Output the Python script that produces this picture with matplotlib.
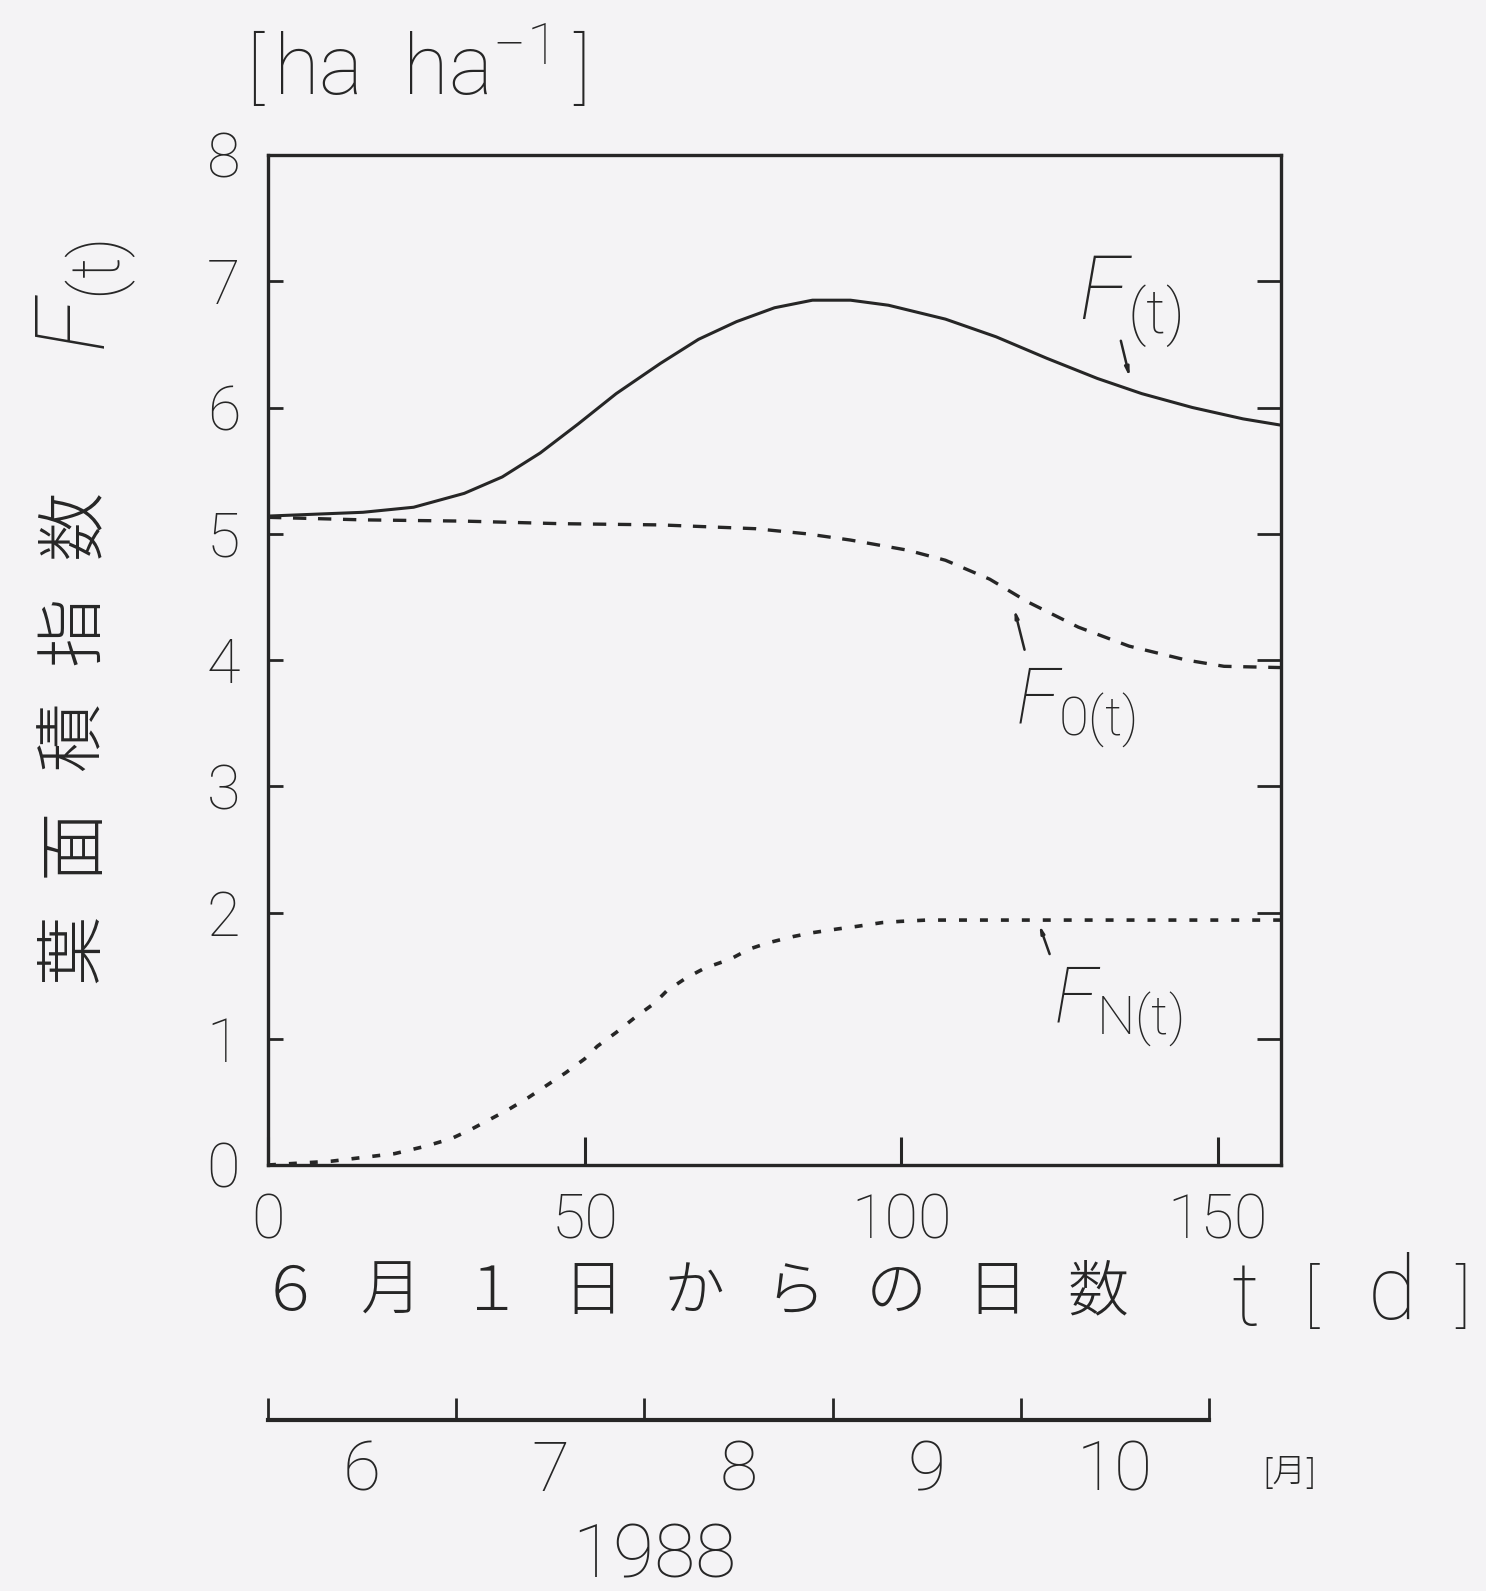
import numpy as np
import matplotlib.pyplot as plt

# values
t_F = [0, 15, 23, 31, 37, 43, 49, 55, 62, 68, 74, 80, 86, 92, 98, 107, 115, 123, 131, 138, 146, 154, 160]
F = [5.14, 5.17, 5.21, 5.32, 5.45, 5.64, 5.87, 6.11, 6.35, 6.54, 6.68, 6.79, 6.85, 6.85, 6.81,
     6.70, 6.56, 6.39, 6.23, 6.11, 6.00, 5.91, 5.86]

t_F0 = [0, 15, 31, 46, 62, 77, 85, 92, 101, 107, 114, 120, 128, 136, 145, 151, 160]
F0 = [5.13, 5.11, 5.10, 5.08, 5.07, 5.04, 5.0, 4.95, 4.87, 4.79, 4.64, 4.46, 4.26, 4.11, 4.0, 3.95, 3.94]

t_FN = [0, 10, 20, 25, 29, 32, 35, 38, 41, 44, 47, 50, 52, 55, 58, 61, 63, 66, 69, 73, 76, 79,
        83, 86, 90, 93, 97, 100, 104, 120, 140, 160]
FN = [0.0, 0.03, 0.09, 0.15, 0.21, 0.28, 0.36, 0.44, 0.53, 0.63, 0.73, 0.84, 0.94, 1.05, 1.17,
      1.28, 1.38, 1.48, 1.56, 1.63, 1.71, 1.76, 1.81, 1.84, 1.87, 1.89, 1.92, 1.93, 1.94, 1.94,
      1.94, 1.94]

x_ticks = [0, 50, 100, 150]
y_ticks = [0, 1, 2, 3, 4, 5, 6, 7, 8]
months = ['6', '7', '8', '9', '10']
xlabel_chars = ['６', '月', '１', '日', 'か', 'ら', 'の', '日', '数']
ylabel_chars = ['葉', '面', '積', '指', '数']

bg = '#f4f3f5'
ink = '#262626'
latin = ['Roboto', 'DejaVu Sans']
cjk = ['Noto Sans CJK JP', 'DejaVu Sans']

plt.rcParams['font.family'] = latin
plt.rcParams['font.weight'] = 'light'
plt.rcParams['text.color'] = ink
plt.rcParams['mathtext.fontset'] = 'custom'
plt.rcParams['mathtext.rm'] = 'Roboto:light'
plt.rcParams['mathtext.it'] = 'Roboto:italic'

W, H = 1486, 1591


def fx(px):
    return px / W


def fy(py):
    return 1 - py / H


fig = plt.figure(figsize=(W / 100, H / 100), dpi=100, facecolor=bg)
ax = fig.add_axes([fx(268), fy(1165), fx(1281) - fx(268), fy(155) - fy(1165)])
ax.set_facecolor(bg)

ax.plot(t_F, F, color=ink, lw=2.2, solid_capstyle='round')
ax.plot(t_F0, F0, color=ink, lw=2.4, dashes=(4, 3.5))
ax.plot(t_FN, FN, color=ink, lw=2.6, dashes=(2.2, 3.6))

ax.set_xlim(0, 160)
ax.set_ylim(0, 8)
ax.set_xticks(x_ticks)
ax.set_yticks(y_ticks)
ax.set_xticklabels([str(v) for v in x_ticks], fontsize=44)
ax.set_yticklabels([str(v) for v in y_ticks], fontsize=44)
for s in ax.spines.values():
    s.set_linewidth(2.4)
    s.set_color(ink)
ax.tick_params(axis='x', direction='in', length=20, width=2.2, pad=20, colors=ink)
ax.tick_params(axis='y', direction='in', length=11, width=2, pad=20, colors=ink,
               right=True, labelright=False)
for tl in ax.yaxis.get_ticklines()[1::2]:
    tl.set_markersize(17)

# curve labels and pointer lines
ax.text(128.0, 6.84, r'$F_{\rm (t)}$', fontsize=64, ha='left', va='center')
ax.annotate('', xy=(136.2, 6.22), xytext=(134.6, 6.55),
            arrowprops=dict(arrowstyle='-|>,head_length=0.5,head_width=0.12', color=ink, lw=1.8))
ax.text(118.0, 3.62, r'$F_{\rm 0(t)}$', fontsize=56, ha='left', va='center')
ax.annotate('', xy=(117.8, 4.42), xytext=(119.6, 4.06),
            arrowprops=dict(arrowstyle='-|>,head_length=0.4,head_width=0.1', color=ink, lw=1.8))
ax.text(124.0, 1.25, r'$F_{\rm N(t)}$', fontsize=56, ha='left', va='center')
ax.annotate('', xy=(121.7, 1.92), xytext=(123.6, 1.65),
            arrowprops=dict(arrowstyle='-|>,head_length=0.4,head_width=0.1', color=ink, lw=1.8))

# axis titles
fig.text(fx(410), fy(72), 'ha  ha$^{-1}$', fontsize=60, ha='center', va='center')
fig.text(fx(255), fy(72), '[', fontsize=56, ha='center', va='center')
fig.text(fx(582), fy(72), ']', fontsize=56, ha='center', va='center')
fig.text(fx(86), fy(296), r'$F_{\rm (t)}$', fontsize=70, rotation=90, ha='center', va='center')
for i, ch in zip(np.arange(len(ylabel_chars)), ylabel_chars):
    fig.text(fx(74), fy(948 - i * 106), ch, family=cjk, fontsize=50, fontweight='light',
             rotation=90, ha='center', va='center')

for i, ch in zip(np.arange(len(xlabel_chars)), xlabel_chars):
    fig.text(fx(290 + i * 101), fy(1293), ch, family=cjk, fontsize=44, fontweight='light',
             ha='center', va='center')
fig.text(fx(1245), fy(1300), 't', fontsize=64, ha='center', va='center')
fig.text(fx(1311), fy(1300), '[', fontsize=50, ha='center', va='center')
fig.text(fx(1392), fy(1295), 'd', fontsize=64, ha='center', va='center')
fig.text(fx(1463), fy(1300), ']', fontsize=50, ha='center', va='center')

# month scale under the chart
mx = fig.add_axes([fx(268), fy(1420), fx(1209) - fx(268), 0.02])
mx.set_facecolor('none')
mx.set_xlim(0, len(months))
mx.set_ylim(0, 1)
for side in ['left', 'right', 'top']:
    mx.spines[side].set_visible(False)
mx.spines['bottom'].set_linewidth(3)
mx.spines['bottom'].set_color(ink)
mx.set_yticks([])
mx.set_xticks(np.arange(len(months) + 1))
mx.set_xticklabels([])
mx.tick_params(axis='x', which='major', direction='in', length=16, width=2, colors=ink)
mx.set_xticks(np.arange(len(months)) + 0.5, minor=True)
mx.set_xticklabels(months, minor=True, fontsize=50)
mx.tick_params(axis='x', which='minor', length=0, pad=14, colors=ink)
fig.text(fx(1290), fy(1473), '[月]', family=cjk, fontsize=24, fontweight='light',
         ha='center', va='center')
fig.text(fx(654), fy(1557), '1988', fontsize=54, ha='center', va='center')

fig.savefig('out.png', dpi=100, facecolor=bg)
